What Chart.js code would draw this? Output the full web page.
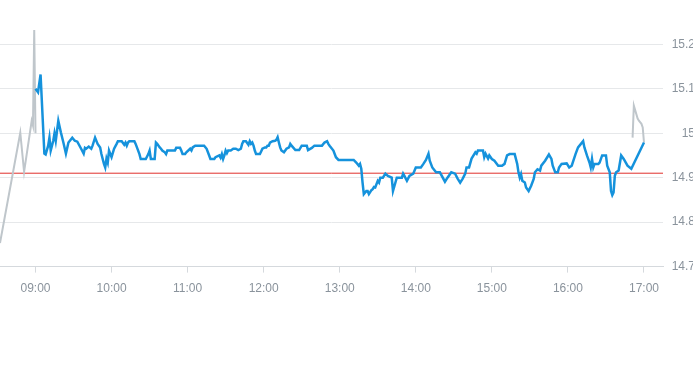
<!DOCTYPE html>
<html>
<head>
<meta charset="utf-8">
<script src="https://cdn.jsdelivr.net/npm/chart.js@4"></script>
<style>
    html, body { margin: 0; padding: 0; background: #fff; overflow: hidden; }
    #wrap { position: absolute; left: 0; top: 0; width: 695px; height: 310px; }
</style>
</head>
<body>
<div id="wrap"><canvas id="priceChart"></canvas></div>
<script>
/* data */
const xTicks = ['09:00', '10:00', '11:00', '12:00', '13:00', '14:00', '15:00', '16:00', '17:00'];
const yTicks = [14.7, 14.8, 14.9, 15, 15.1, 15.2];
const refPrice = 14.91;

const preTimes = ['08:32', '08:48', '08:51', '08:57', '08:58', '08:59', '09:00'];
const preValues = [14.753, 15.001, 14.913, 15.028, 15.017, 15.232, 15.0];

const postTimes = ['16:51', '16:52', '16:55', '16:56', '16:58', '16:59', '17:00'];
const postValues = [14.99, 15.062, 15.033, 15.028, 15.021, 15.013, 14.979];

const sessionTimes = [
    '09:00', '09:02', '09:04', '09:07', '09:08', '09:10', '09:11', '09:12', '09:13', '09:14',
    '09:15', '09:16', '09:18', '09:20', '09:22', '09:24', '09:26', '09:29', '09:31', '09:33',
    '09:36', '09:38', '09:39', '09:40', '09:42', '09:44', '09:45', '09:47', '09:49', '09:51',
    '09:52', '09:54', '09:55', '09:56', '09:57', '09:58', '10:00', '10:02', '10:04', '10:05',
    '10:08', '10:10', '10:11', '10:12', '10:13', '10:14', '10:18', '10:19', '10:22', '10:23',
    '10:27', '10:29', '10:30', '10:31', '10:34', '10:35', '10:36', '10:38', '10:39', '10:40',
    '10:42', '10:43', '10:44', '10:50', '10:51', '10:54', '10:55', '10:56', '10:58', '10:59',
    '11:02', '11:03', '11:04', '11:06', '11:13', '11:15', '11:17', '11:18', '11:21', '11:22',
    '11:25', '11:26', '11:27', '11:28', '11:29', '11:30', '11:31', '11:32', '11:34', '11:36',
    '11:38', '11:40', '11:42', '11:43', '11:44', '11:46', '11:48', '11:49', '11:50', '11:51',
    '11:52', '11:53', '11:54', '11:57', '11:58', '11:59', '12:01', '12:02', '12:03', '12:04',
    '12:05', '12:07', '12:09', '12:10', '12:11', '12:12', '12:13', '12:14', '12:16', '12:18',
    '12:20', '12:21', '12:22', '12:25', '12:28', '12:30', '12:34', '12:35', '12:38', '12:40',
    '12:46', '12:48', '12:50', '12:51', '12:52', '12:55', '12:57', '12:59', '13:11', '13:13',
    '13:15', '13:16', '13:17', '13:18', '13:19', '13:21', '13:22', '13:23', '13:25', '13:26',
    '13:27', '13:28', '13:30', '13:31', '13:32', '13:34', '13:36', '13:38', '13:41', '13:42',
    '13:45', '13:49', '13:50', '13:51', '13:53', '13:55', '13:58', '14:00', '14:04', '14:06',
    '14:08', '14:10', '14:11', '14:13', '14:16', '14:19', '14:23', '14:25', '14:28', '14:31',
    '14:33', '14:35', '14:37', '14:39', '14:40', '14:42', '14:44', '14:47', '14:48', '14:49',
    '14:53', '14:54', '14:55', '14:57', '14:58', '15:00', '15:02', '15:05', '15:08', '15:10',
    '15:12', '15:14', '15:18', '15:20', '15:21', '15:22', '15:23', '15:24', '15:26', '15:27',
    '15:29', '15:31', '15:33', '15:34', '15:36', '15:38', '15:39', '15:42', '15:45', '15:47',
    '15:48', '15:50', '15:52', '15:53', '15:55', '15:59', '16:01', '16:03', '16:06', '16:08',
    '16:12', '16:13', '16:15', '16:17', '16:18', '16:19', '16:20', '16:21', '16:24', '16:25',
    '16:27', '16:30', '16:31', '16:33', '16:34', '16:35', '16:36', '16:37', '16:38', '16:40',
    '16:42', '16:44', '16:47', '16:50', '17:00'
];
const sessionValues = [
    15.100, 15.092, 15.132, 14.954, 14.952, 14.972, 14.990, 14.961, 14.972, 14.983,
    15.000, 14.983, 15.028, 15.002, 14.979, 14.954, 14.979, 14.990, 14.983, 14.981,
    14.965, 14.954, 14.967, 14.965, 14.970, 14.965, 14.972, 14.990, 14.976, 14.968,
    14.953, 14.931, 14.923, 14.943, 14.934, 14.961, 14.946, 14.965, 14.976, 14.982,
    14.982, 14.974, 14.979, 14.972, 14.979, 14.982, 14.982, 14.976, 14.953, 14.942,
    14.942, 14.953, 14.961, 14.942, 14.942, 14.979, 14.976, 14.968, 14.965, 14.961,
    14.957, 14.953, 14.961, 14.961, 14.967, 14.967, 14.961, 14.953, 14.953, 14.957,
    14.965, 14.961, 14.968, 14.972, 14.972, 14.965, 14.950, 14.942, 14.942, 14.946,
    14.950, 14.945, 14.953, 14.942, 14.950, 14.961, 14.955, 14.961, 14.961, 14.965,
    14.965, 14.962, 14.965, 14.976, 14.982, 14.982, 14.974, 14.982, 14.976, 14.979,
    14.972, 14.961, 14.953, 14.953, 14.959, 14.965, 14.968, 14.968, 14.972, 14.972,
    14.979, 14.982, 14.983, 14.985, 14.991, 14.979, 14.968, 14.961, 14.957, 14.965,
    14.968, 14.976, 14.972, 14.962, 14.962, 14.972, 14.972, 14.962, 14.967, 14.972,
    14.972, 14.979, 14.982, 14.976, 14.972, 14.961, 14.946, 14.940, 14.940, 14.934,
    14.927, 14.931, 14.920, 14.889, 14.863, 14.870, 14.870, 14.863, 14.872, 14.874,
    14.879, 14.878, 14.893, 14.889, 14.900, 14.900, 14.909, 14.904, 14.900, 14.870,
    14.900, 14.900, 14.909, 14.904, 14.893, 14.904, 14.909, 14.923, 14.923, 14.931,
    14.940, 14.954, 14.938, 14.923, 14.912, 14.912, 14.891, 14.900, 14.912, 14.909,
    14.898, 14.889, 14.898, 14.909, 14.923, 14.923, 14.943, 14.957, 14.954, 14.961,
    14.961, 14.946, 14.954, 14.943, 14.950, 14.942, 14.938, 14.927, 14.927, 14.931,
    14.950, 14.953, 14.953, 14.931, 14.912, 14.900, 14.908, 14.893, 14.889, 14.878,
    14.870, 14.882, 14.897, 14.912, 14.919, 14.916, 14.927, 14.938, 14.952, 14.942,
    14.927, 14.912, 14.912, 14.923, 14.931, 14.932, 14.923, 14.927, 14.953, 14.968,
    14.982, 14.968, 14.950, 14.934, 14.923, 14.942, 14.923, 14.931, 14.931, 14.934,
    14.950, 14.950, 14.927, 14.912, 14.870, 14.861, 14.867, 14.904, 14.912, 14.916,
    14.950, 14.942, 14.927, 14.920, 14.979
];
/* data end */

const toMin = (s) => {
    const [h, m] = s.split(':').map(Number);
    return h * 60 + m;
};
const pad2 = (n) => String(n).padStart(2, '0');
const points = (times, values) => times.map((t, i) => ({ x: toMin(t), y: values[i] }));

const xMin = toMin('08:32');
const xMax = toMin('17:15');

const tickColor = '#8a939c';

const priceChart = new Chart(document.getElementById('priceChart'), {
    type: 'line',
    data: {
        datasets: [{
            label: 'session',
            data: points(sessionTimes, sessionValues),
            borderColor: '#1592dc',
            borderWidth: 2.5,
            pointRadius: 0,
            order: 1
        }, {
            label: 'pre',
            data: points(preTimes, preValues),
            borderColor: '#bfc6cb',
            borderWidth: 2,
            pointRadius: 0,
            order: 2
        }, {
            label: 'post',
            data: points(postTimes, postValues),
            borderColor: '#bfc6cb',
            borderWidth: 2,
            pointRadius: 0,
            order: 2
        }, {
            label: 'ref',
            data: [{ x: xMin, y: refPrice }, { x: xMax, y: refPrice }],
            borderColor: '#e0302c',
            borderWidth: 1,
            pointRadius: 0,
            order: 3
        }]
    },
    options: {
        responsive: true,
        maintainAspectRatio: false,
        animation: false,
        layout: { padding: { bottom: 5 } },
        plugins: {
            legend: { display: false },
            tooltip: { enabled: false }
        },
        scales: {
            x: {
                type: 'linear',
                min: xMin,
                max: xMax,
                afterBuildTicks: (axis) => {
                    axis.ticks = xTicks.map(t => ({ value: toMin(t) }));
                },
                ticks: {
                    color: tickColor,
                    font: { size: 12 },
                    padding: 9,
                    maxRotation: 0,
                    callback: (v) => pad2(Math.floor(v / 60)) + ':' + pad2(v % 60)
                },
                grid: {
                    drawOnChartArea: false,
                    tickLength: 6,
                    color: '#d5d9dd'
                },
                border: { display: true, color: '#d5d9dd' }
            },
            y: {
                position: 'right',
                min: 14.7,
                max: 15.2766,
                afterBuildTicks: (axis) => {
                    axis.ticks = yTicks.map(v => ({ value: v }));
                },
                afterFit: (axis) => {
                    axis.width = 32;
                },
                ticks: {
                    color: tickColor,
                    font: { size: 12 },
                    crossAlign: 'far',
                    callback: (v) => String(Math.round(v * 10) / 10)
                },
                grid: {
                    drawTicks: false,
                    color: '#e6e8ea'
                },
                border: { display: false }
            }
        }
    }
});
</script>
</body>
</html>
